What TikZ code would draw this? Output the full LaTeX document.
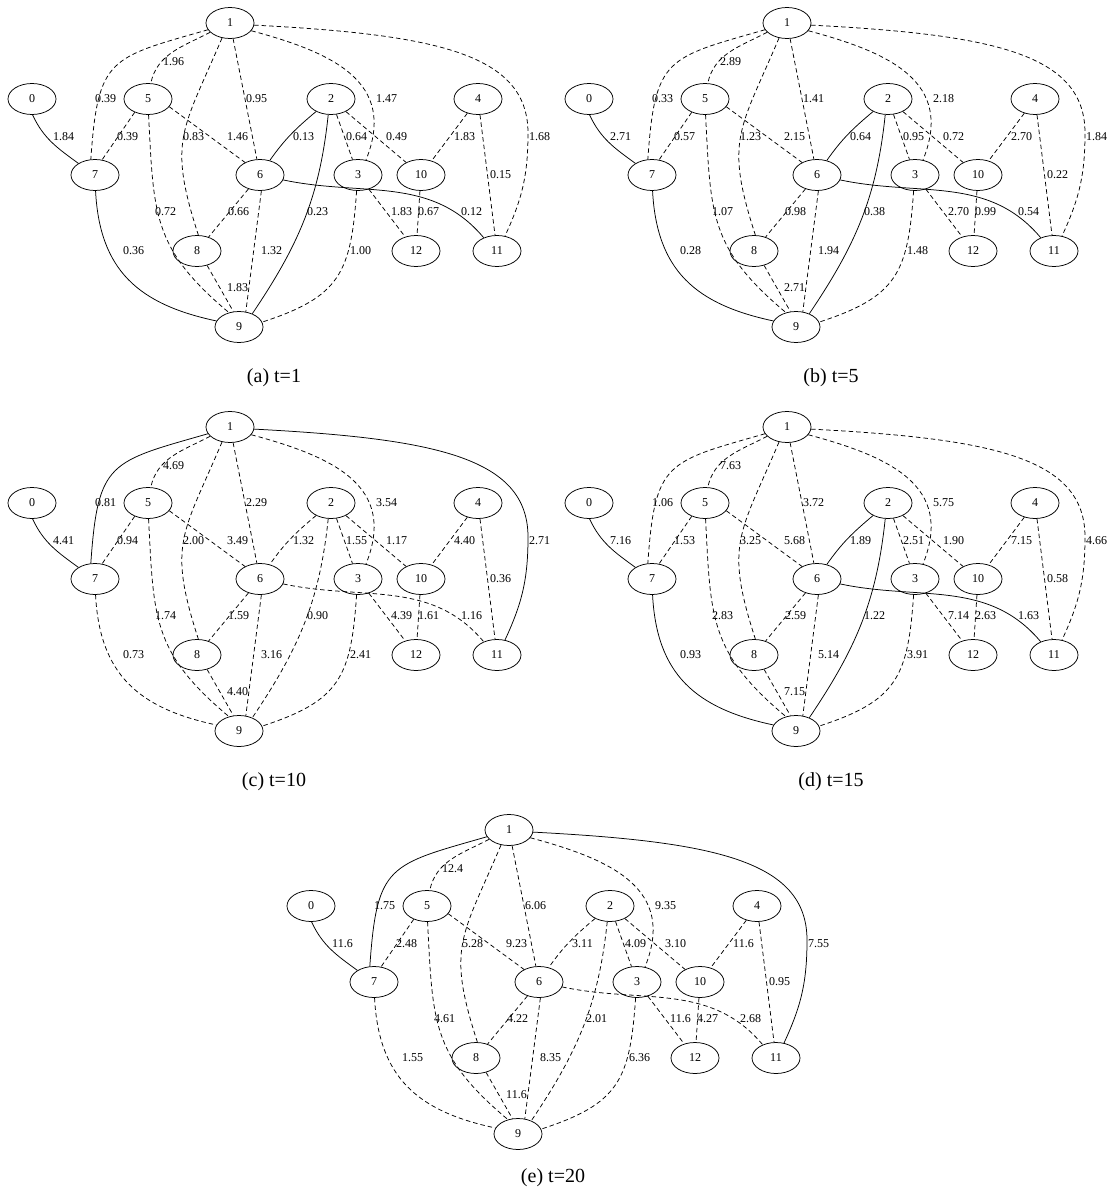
\documentclass[tikz,border=0pt]{standalone}
\usepackage{fontspec}
\setmainfont{Liberation Serif}
\usetikzlibrary{shapes.geometric}
\pgfkeys{/lab/.cd,
 07/.initial=,17/.initial=,15/.initial=,18/.initial=,16/.initial=,13/.initial=,111/.initial=,
 57/.initial=,56/.initial=,59/.initial=,79/.initial=,68/.initial=,69/.initial=,89/.initial=,
 26/.initial=,29/.initial=,23/.initial=,210/.initial=,410/.initial=,411/.initial=,611/.initial=,
 39/.initial=,312/.initial=,1012/.initial=}
\newcommand\labs[1]{\pgfkeys{/lab/.cd,#1}}
\newcommand\LV[1]{\pgfkeysvalueof{/lab/#1}}
\tikzset{
  gnode/.style={draw, ellipse, minimum width=48pt, minimum height=31pt, inner sep=0pt,
    line width=0.75pt, font=\fontsize{12}{14}\selectfont},
  gedge/.style={draw, line width=0.75pt, dash pattern=on 4.5pt off 3pt},
  lab/.style={anchor=west, inner sep=0pt, font=\fontsize{12}{14}\selectfont},
  capt/.style={anchor=base, inner sep=0pt, font=\fontsize{20}{24}\selectfont},
  e07/.style={}, e17/.style={}, e15/.style={}, e18/.style={}, e16/.style={}, e13/.style={},
  e111/.style={}, e57/.style={}, e56/.style={}, e59/.style={}, e79/.style={}, e68/.style={},
  e69/.style={}, e89/.style={}, e26/.style={}, e29/.style={}, e23/.style={}, e210/.style={},
  e410/.style={}, e411/.style={}, e611/.style={}, e39/.style={}, e312/.style={}, e1012/.style={}
}
\newcommand\graphbody{%
  \node[gnode] (n1) at (230,-23) {1};
  \node[gnode] (n0) at (32,-99) {0};
  \node[gnode] (n5) at (148,-99) {5};
  \node[gnode] (n2) at (331,-99) {2};
  \node[gnode] (n4) at (478,-99) {4};
  \node[gnode] (n7) at (95,-175) {7};
  \node[gnode] (n6) at (260,-175) {6};
  \node[gnode] (n3) at (358,-175) {3};
  \node[gnode] (n10) at (421,-175) {10};
  \node[gnode] (n8) at (197,-251) {8};
  \node[gnode] (n12) at (416,-251) {12};
  \node[gnode] (n11) at (497,-251) {11};
  \node[gnode] (n9) at (239,-327) {9};
  \coordinate (k1) at (528,-133);
  \draw[gedge,e07] (n0.-88) to[out=-65,in=144] (n7.145);
  \draw[gedge,e17] (n1.197) to[out=196,in=86,looseness=1.5] (n7.105);
  \draw[gedge,e15] (n1.205) to[out=208,in=78] (n5.80);
  \draw[gedge,e18] (n1.-118) to[out=-113,in=108,looseness=1.3] (n8.85);
  \draw[gedge,e16] (n1) -- (n6);
  \draw[gedge,e13] (n1.-20) to[out=-15,in=68,looseness=1.25] (n3.62);
  \draw[gedge,e111] (n1.-5) to[out=-3,in=90,out distance=180pt,in distance=80pt] (k1)
     to[out=-90,in=65] (n11.62);
  \draw[gedge,e57] (n5.-135) -- (n7.65);
  \draw[gedge,e56] (n5.-20) -- (n6.140);
  \draw[gedge,e59] (n5.-88) to[out=-87,in=140,out distance=100pt,in distance=100pt] (n9.125);
  \draw[gedge,e79] (n7.-88) to[out=-87,in=168,looseness=1.15] (n9.165);
  \draw[gedge,e68] (n6) -- (n8);
  \draw[gedge,e69] (n6.-85) -- (n9.66);
  \draw[gedge,e89] (n8.-55) -- (n9.110);
  \draw[gedge,e26] (n2.-140) to[out=-140,in=55] (n6.56);
  \draw[gedge,e29] (n2.-100) to[out=-96,in=56] (n9.45);
  \draw[gedge,e23] (n2) -- (n3);
  \draw[gedge,e210] (n2) -- (n10);
  \draw[gedge,e410] (n4) -- (n10);
  \draw[gedge,e411] (n4) -- (n11);
  \draw[gedge,e611] (n6.-12) to[out=-12,in=130] (n11.135);
  \draw[gedge,e39] (n3.-95) to[out=-94,in=18,looseness=1.3] (n9.12);
  \draw[gedge,e312] (n3) -- (n12);
  \draw[gedge,e1012] (n10) -- (n12);
  \node[lab] (l15) at (163,-62) {\LV{15}};
  \node[lab] (l17) at (95,-99) {\LV{17}};
  \node[lab] (l16) at (246,-99) {\LV{16}};
  \node[lab] (l13) at (376,-99) {\LV{13}};
  \node[lab] (l07) at (53,-137) {\LV{07}};
  \node[lab] (l57) at (117,-137) {\LV{57}};
  \node[lab] (l18) at (183,-137) {\LV{18}};
  \node[lab] (l56) at (227,-137) {\LV{56}};
  \node[lab] (l26) at (293,-137) {\LV{26}};
  \node[lab] (l23) at (346,-137) {\LV{23}};
  \node[lab] (l210) at (386,-137) {\LV{210}};
  \node[lab] (l410) at (454,-137) {\LV{410}};
  \node[lab] (l111) at (529,-137) {\LV{111}};
  \node[lab] (l411) at (490,-175) {\LV{411}};
  \node[lab] (l59) at (155,-212) {\LV{59}};
  \node[lab] (l68) at (228,-212) {\LV{68}};
  \node[lab] (l29) at (307,-212) {\LV{29}};
  \node[lab] (l312) at (391,-212) {\LV{312}};
  \node[lab] (l1012) at (418,-212) {\LV{1012}};
  \node[lab] (l611) at (461,-212) {\LV{611}};
  \node[lab] (l79) at (123,-251) {\LV{79}};
  \node[lab] (l69) at (261,-251) {\LV{69}};
  \node[lab] (l39) at (350,-251) {\LV{39}};
  \node[lab] (l89) at (227,-288) {\LV{89}};
}
\begin{document}
\begin{tikzpicture}[x=1pt,y=1pt]
\useasboundingbox (0,0) rectangle (1114,-1188);
% (a)
\begin{scope}[name prefix=a-, e07/.style=solid, e79/.style=solid, e26/.style=solid,
  e29/.style=solid, e611/.style=solid]
  \labs{07=1.84,17=0.39,15=1.96,18=0.83,16=0.95,13=1.47,111=1.68,57=0.39,56=1.46,59=0.72,
    79=0.36,68=0.66,69=1.32,89=1.83,26=0.13,29=0.23,23=0.64,210=0.49,410=1.83,411=0.15,
    611=0.12,39=1.00,312=1.83,1012=0.67}
  \graphbody
  \node[capt] (cap) at (274,-382) {(a) t=1};
\end{scope}
% (b)
\begin{scope}[shift={(557,0)}, name prefix=b-, e07/.style=solid, e79/.style=solid,
  e26/.style=solid, e29/.style=solid, e611/.style=solid]
  \labs{07=2.71,17=0.33,15=2.89,18=1.23,16=1.41,13=2.18,111=1.84,57=0.57,56=2.15,59=1.07,
    79=0.28,68=0.98,69=1.94,89=2.71,26=0.64,29=0.38,23=0.95,210=0.72,410=2.70,411=0.22,
    611=0.54,39=1.48,312=2.70,1012=0.99}
  \graphbody
  \node[capt] (cap) at (274,-382) {(b) t=5};
\end{scope}
% (c)
\begin{scope}[shift={(0,-404)}, name prefix=c-, e07/.style=solid, e17/.style=solid,
  e111/.style=solid]
  \labs{07=4.41,17=0.81,15=4.69,18=2.00,16=2.29,13=3.54,111=2.71,57=0.94,56=3.49,59=1.74,
    79=0.73,68=1.59,69=3.16,89=4.40,26=1.32,29=0.90,23=1.55,210=1.17,410=4.40,411=0.36,
    611=1.16,39=2.41,312=4.39,1012=1.61}
  \graphbody
  \node[capt] (cap) at (274,-382) {(c) t=10};
\end{scope}
% (d)
\begin{scope}[shift={(557,-404)}, name prefix=d-, e07/.style=solid, e79/.style=solid,
  e26/.style=solid, e29/.style=solid, e611/.style=solid]
  \labs{07=7.16,17=1.06,15=7.63,18=3.25,16=3.72,13=5.75,111=4.66,57=1.53,56=5.68,59=2.83,
    79=0.93,68=2.59,69=5.14,89=7.15,26=1.89,29=1.22,23=2.51,210=1.90,410=7.15,411=0.58,
    611=1.63,39=3.91,312=7.14,1012=2.63}
  \graphbody
  \node[capt] (cap) at (274,-382) {(d) t=15};
\end{scope}
% (e)
\begin{scope}[shift={(279,-807)}, name prefix=e-, e07/.style=solid, e17/.style=solid,
  e111/.style=solid]
  \labs{07=11.6,17=1.75,15=12.4,18=5.28,16=6.06,13=9.35,111=7.55,57=2.48,56=9.23,59=4.61,
    79=1.55,68=4.22,69=8.35,89=11.6,26=3.11,29=2.01,23=4.09,210=3.10,410=11.6,411=0.95,
    611=2.68,39=6.36,312=11.6,1012=4.27}
  \graphbody
  \node[capt] (cap) at (274,-375) {(e) t=20};
\end{scope}
\end{tikzpicture}
\end{document}
